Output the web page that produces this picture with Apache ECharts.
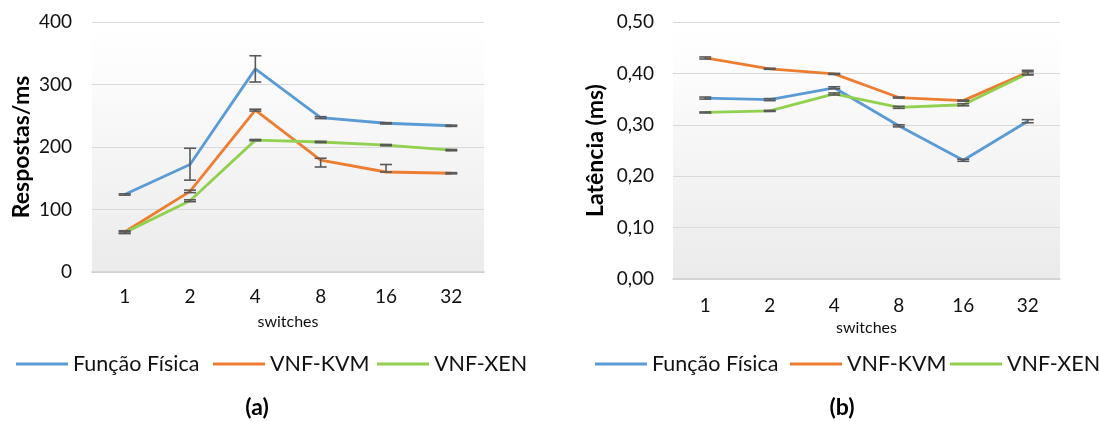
<!DOCTYPE html>
<html>
<head>
<meta charset="utf-8">
<script src="https://cdn.jsdelivr.net/npm/echarts@6/dist/echarts.min.js"></script>
<style>
html,body{margin:0;padding:0;background:#fff;}
#main{width:1099px;height:421px;}
</style>
</head>
<body>
<div id="main"></div>
<script>
// ---- data ----
const categories = ['1', '2', '4', '8', '16', '32'];
const seriesNames = ['Função Física', 'VNF-KVM', 'VNF-XEN'];

// (a) Respostas/ms
const respFisica = [124, 172, 325, 247, 238, 234];
const respKVM    = [64, 129, 259, 179, 160, 158];
const respXEN    = [63, 114, 211, 208, 203, 195];
const respFisicaErrPlus  = [1, 26, 21, 1.5, 1, 1];
const respFisicaErrMinus = [1, 25, 21, 1.5, 1, 1];
const respKVMErrPlus     = [2, 2, 1.5, 3, 12, 1];
const respKVMErrMinus    = [2, 2, 1.5, 11, 0, 1];
const respXENErrPlus     = [1.5, 1.5, 1, 1, 1, 1];
const respXENErrMinus    = [1.5, 1.5, 1, 1, 1, 1];

// (b) Latência (ms)
const latFisica = [0.352, 0.349, 0.372, 0.298, 0.231, 0.307];
const latKVM    = [0.430, 0.409, 0.399, 0.353, 0.347, 0.402];
const latXEN    = [0.324, 0.327, 0.360, 0.334, 0.339, 0.400];
const latFisicaErr = [0.002, 0.002, 0.002, 0.002, 0.002, 0.003];
const latKVMErr    = [0.002, 0.001, 0.001, 0.001, 0.001, 0.004];
const latXENErr    = [0.001, 0.001, 0.002, 0.002, 0.002, 0.003];

const respTicks = [0, 100, 200, 300, 400];
const latTicks = ['0,00', '0,10', '0,20', '0,30', '0,40', '0,50'];

// ---- styling ----
const colors = ['#5B9BD5', '#ED7D31', '#92D050'];
const FONT = 'Lato, "Open Sans", sans-serif';
const bg = {type: 'linear', x: 0, y: 0, x2: 0, y2: 1,
  colorStops: [{offset: 0, color: '#ffffff'}, {offset: 0.15, color: '#fdfdfd'}, {offset: 1, color: '#ebebeb'}]};

function errData(vals, plus, minus) {
  return vals.map((v, i) => [i, v - minus[i], v + plus[i]]);
}
function errSeries(name, xi, yi, data) {
  return {
    type: 'custom', name: name, xAxisIndex: xi, yAxisIndex: yi, z: 5,
    encode: {x: 0, y: [1, 2]},
    renderItem: function (params, api) {
      const x = api.value(0);
      const lo = api.coord([x, api.value(1)]);
      const hi = api.coord([x, api.value(2)]);
      const w = 6;
      const st = {stroke: '#595959', lineWidth: 1.6};
      return {type: 'group', children: [
        {type: 'line', shape: {x1: lo[0], y1: lo[1], x2: hi[0], y2: hi[1]}, style: st},
        {type: 'line', shape: {x1: lo[0] - w, y1: lo[1], x2: lo[0] + w, y2: lo[1]}, style: st},
        {type: 'line', shape: {x1: hi[0] - w, y1: hi[1], x2: hi[0] + w, y2: hi[1]}, style: st}
      ]};
    },
    data: data
  };
}
function lineSeries(name, xi, yi, data, color) {
  return {type: 'line', name: name, xAxisIndex: xi, yAxisIndex: yi, data: data,
    symbol: 'none', lineStyle: {width: 2.8, color: color}, itemStyle: {color: color}, z: 3};
}
function legend(name, left) {
  return {data: [name], left: left, top: 351, padding: 0, icon: 'rect',
    itemWidth: 52, itemHeight: 3,
    textStyle: {fontFamily: FONT, fontSize: 21.5, color: '#111', lineHeight: 26}};
}
function xAx(gi, margin, nameGap) {
  return {type: 'category', gridIndex: gi, data: categories, boundaryGap: true,
    axisLine: {lineStyle: {color: '#d0d0d0', width: 1.5}},
    axisTick: {show: false},
    axisLabel: {fontFamily: FONT, fontSize: 19, color: '#111', margin: margin},
    name: 'switches', nameLocation: 'middle', nameGap: nameGap,
    nameTextStyle: {fontFamily: FONT, fontSize: 16, color: '#111'}};
}

const chart = echarts.init(document.getElementById('main'), null, {renderer: 'canvas'});
chart.setOption({
  animation: false,
  grid: [
    {left: 92, top: 22, width: 392, height: 250, show: true, backgroundColor: bg, borderWidth: 0},
    {left: 673, top: 22, width: 387, height: 257, show: true, backgroundColor: bg, borderWidth: 0}
  ],
  xAxis: [xAx(0, 15, 42), xAx(1, 17, 40)],
  yAxis: [
    {type: 'value', gridIndex: 0, min: respTicks[0], max: respTicks[respTicks.length - 1], interval: 100,
      axisLine: {show: false}, axisTick: {show: false},
      splitLine: {lineStyle: {color: '#d9d9d9', width: 1.2}},
      axisLabel: {fontFamily: FONT, fontSize: 19, color: '#111', margin: 20},
      name: 'Respostas/ms', nameLocation: 'middle', nameGap: 59,
      nameTextStyle: {fontFamily: FONT, fontSize: 23, fontWeight: 'bold', color: '#000'}},
    {type: 'value', gridIndex: 1, min: 0, max: 0.5, interval: 0.1,
      axisLine: {show: false}, axisTick: {show: false},
      splitLine: {lineStyle: {color: '#d9d9d9', width: 1.2}},
      axisLabel: {fontFamily: FONT, fontSize: 19, color: '#111', margin: 19,
        formatter: function (v) { return latTicks[Math.round(v * 10)]; }},
      name: 'Latência (ms)', nameLocation: 'middle', nameGap: 66,
      nameTextStyle: {fontFamily: FONT, fontSize: 23, fontWeight: 'bold', color: '#000'}}
  ],
  legend: [
    legend(seriesNames[0], 16), legend(seriesNames[1], 213), legend(seriesNames[2], 377),
    legend(seriesNames[0], 595), legend(seriesNames[1], 790), legend(seriesNames[2], 950)
  ],
  graphic: [
    {type: 'text', x: 257, y: 408, style: {text: '(a)', font: 'bold 23px ' + FONT, fill: '#000', align: 'center', verticalAlign: 'middle'}},
    {type: 'text', x: 842, y: 408, style: {text: '(b)', font: 'bold 23px ' + FONT, fill: '#000', align: 'center', verticalAlign: 'middle'}}
  ],
  series: [
    lineSeries(seriesNames[0], 0, 0, respFisica, colors[0]),
    lineSeries(seriesNames[1], 0, 0, respKVM, colors[1]),
    lineSeries(seriesNames[2], 0, 0, respXEN, colors[2]),
    errSeries('errA0', 0, 0, errData(respFisica, respFisicaErrPlus, respFisicaErrMinus)),
    errSeries('errA1', 0, 0, errData(respKVM, respKVMErrPlus, respKVMErrMinus)),
    errSeries('errA2', 0, 0, errData(respXEN, respXENErrPlus, respXENErrMinus)),
    lineSeries(seriesNames[0], 1, 1, latFisica, colors[0]),
    lineSeries(seriesNames[1], 1, 1, latKVM, colors[1]),
    lineSeries(seriesNames[2], 1, 1, latXEN, colors[2]),
    errSeries('errB0', 1, 1, errData(latFisica, latFisicaErr, latFisicaErr)),
    errSeries('errB1', 1, 1, errData(latKVM, latKVMErr, latKVMErr)),
    errSeries('errB2', 1, 1, errData(latXEN, latXENErr, latXENErr))
  ]
});
</script>
</body>
</html>
